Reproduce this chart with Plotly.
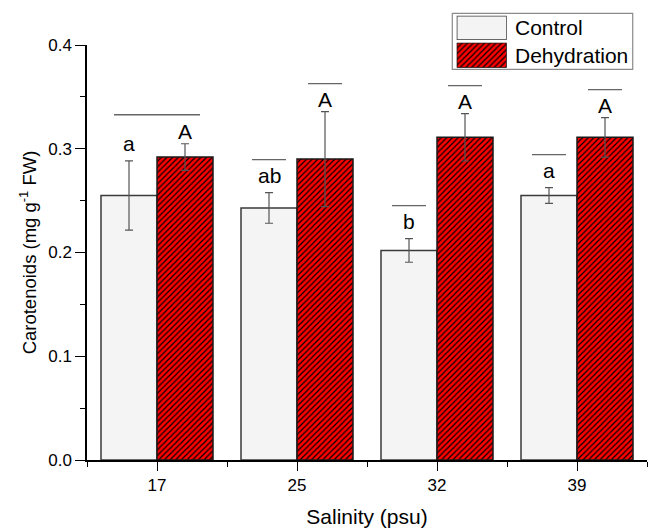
import plotly.graph_objects as go

# ---- data ----
salinity = ["17", "25", "32", "39"]
control_mean = [0.255, 0.243, 0.202, 0.255]
control_err = [0.0334, 0.0148, 0.0114, 0.0076]
dehyd_mean = [0.292, 0.290, 0.311, 0.311]
dehyd_err = [0.0128, 0.0458, 0.0228, 0.0190]
control_letters = ["a", "ab", "b", "a"]
dehyd_letters = ["A", "A", "A", "A"]
# how the significance bar is drawn for each group: one line over both bars, or one per bar
sig_span = ["pair", "single", "single", "single"]

FONT = "Arial, Liberation Sans, sans-serif"
BARGAP = 0.2
OFF = (1 - BARGAP) / 4  # centre offset of each bar in a group of two
RED = "#ff0000"

xpos = list(range(1, len(salinity) + 1))

fig = go.Figure()
fig.add_trace(go.Bar(
    x=xpos, y=control_mean, name="Control",
    marker=dict(color="#f4f4f4", line=dict(color="#3a3a3a", width=1.5)),
    error_y=dict(type="data", array=control_err, color="#555555", thickness=1.2, width=4),
    showlegend=False,
))
fig.add_trace(go.Bar(
    x=xpos, y=dehyd_mean, name="Dehydration",
    marker=dict(color=RED, line=dict(color="#1a1a1a", width=1.5),
                pattern=dict(shape="/", fillmode="replace", bgcolor=RED,
                             fgcolor="#000000", size=4, solidity=0.3)),
    error_y=dict(type="data", array=dehyd_err, color="#555555", thickness=1.2, width=4),
    showlegend=False,
))

# legend swatches drawn as bars in tiny subplots (so the hatch matches)
fig.add_trace(go.Bar(x=[0], y=[1], width=[1], xaxis="x2", yaxis="y2", showlegend=False,
                     marker=dict(color="#f4f4f4", line=dict(color="#3a3a3a", width=1.5)),
                     hoverinfo="skip"))
fig.add_trace(go.Bar(x=[0], y=[1], width=[1], xaxis="x3", yaxis="y3", showlegend=False,
                     marker=dict(color=RED, line=dict(color="#1a1a1a", width=1.5),
                                 pattern=dict(shape="/", fillmode="replace", bgcolor=RED,
                                              fgcolor="#000000", size=4, solidity=0.3)),
                     hoverinfo="skip"))

annotations = []
shapes = []
for i, xc in enumerate(xpos):
    ctop = control_mean[i] + control_err[i]
    dtop = dehyd_mean[i] + dehyd_err[i]
    annotations.append(dict(x=xc - OFF, y=ctop, xref="x", yref="y", text=control_letters[i],
                            showarrow=False, yanchor="bottom", yshift=4,
                            font=dict(size=21, color="black", family=FONT)))
    annotations.append(dict(x=xc + OFF, y=dtop, xref="x", yref="y", text=dehyd_letters[i],
                            showarrow=False, yanchor="bottom", yshift=-1,
                            font=dict(size=21, color="black", family=FONT)))
    line_style = dict(color="#666666", width=1.3)
    if sig_span[i] == "pair":
        shapes.append(dict(type="line", xref="x", yref="y", xsizemode="pixel", ysizemode="pixel",
                           xanchor=xc, yanchor=max(ctop, dtop), x0=-43, x1=43, y0=29, y1=29,
                           line=line_style))
    else:
        shapes.append(dict(type="line", xref="x", yref="y", xsizemode="pixel", ysizemode="pixel",
                           xanchor=xc - OFF, yanchor=ctop, x0=-17, x1=17, y0=33, y1=33,
                           line=line_style))
        shapes.append(dict(type="line", xref="x", yref="y", xsizemode="pixel", ysizemode="pixel",
                           xanchor=xc + OFF, yanchor=dtop, x0=-17, x1=17, y0=28, y1=28,
                           line=line_style))

# legend frame and labels (paper coords)
shapes.append(dict(type="rect", xref="paper", yref="paper", x0=0.6523, x1=0.9745,
                   y0=0.8644, y1=0.9883, line=dict(color="#8a8a8a", width=1.2), layer="below"))
annotations.append(dict(x=0.7607, y=0.9558, xref="paper", yref="paper", text="Control",
                        showarrow=False, xanchor="left", yanchor="middle",
                        font=dict(size=21, color="black", family=FONT)))
annotations.append(dict(x=0.7607, y=0.8960, xref="paper", yref="paper", text="Dehydration",
                        showarrow=False, xanchor="left", yanchor="middle",
                        font=dict(size=21, color="black", family=FONT)))

fig.update_layout(
    width=649, height=528,
    margin=dict(l=87, r=2, t=8, b=68),
    paper_bgcolor="white", plot_bgcolor="white",
    barmode="group", bargap=BARGAP, bargroupgap=0,
    font=dict(family=FONT, color="black"),
    annotations=annotations, shapes=shapes,
    showlegend=False,
    xaxis=dict(
        range=[0.5, 4.5], tickvals=xpos, ticktext=salinity,
        showline=True, linecolor="black", linewidth=1.5,
        ticks="outside", ticklen=9, tickwidth=1.3, tickcolor="black",
        minor=dict(tickvals=[0.5, 1.5, 2.5, 3.5, 4.5], ticks="outside", ticklen=5,
                   tickwidth=1.3, tickcolor="black"),
        showgrid=False, zeroline=False,
        tickfont=dict(size=17, family=FONT),
        title=dict(text="Salinity (psu)", font=dict(size=21, family=FONT), standoff=18),
        automargin=False,
    ),
    yaxis=dict(
        domain=[0, 0.91814],
        range=[0, 0.4], dtick=0.1, tickformat=".1f",
        showline=True, linecolor="black", linewidth=1.5,
        ticks="outside", ticklen=10, tickwidth=1.3, tickcolor="black",
        minor=dict(dtick=0.05, ticks="outside", ticklen=5, tickwidth=1.3, tickcolor="black"),
        showgrid=False, zeroline=False,
        tickfont=dict(size=17, family=FONT),
        title=dict(text="Carotenoids (mg g<sup>-1</sup> FW)", font=dict(size=18.5, family=FONT),
                   standoff=7),
        automargin=False,
    ),
    xaxis2=dict(domain=[0.6602, 0.7495], anchor="y2", range=[-0.5, 0.5], visible=False),
    yaxis2=dict(domain=[0.9292, 0.9830], anchor="x2", range=[0, 1], visible=False),
    xaxis3=dict(domain=[0.6602, 0.7495], anchor="y3", range=[-0.5, 0.5], visible=False),
    yaxis3=dict(domain=[0.8679, 0.9232], anchor="x3", range=[0, 1], visible=False),
)

fig.write_html("out.html", config={"displayModeBar": False},
               post_script="document.body.style.margin='0';")
